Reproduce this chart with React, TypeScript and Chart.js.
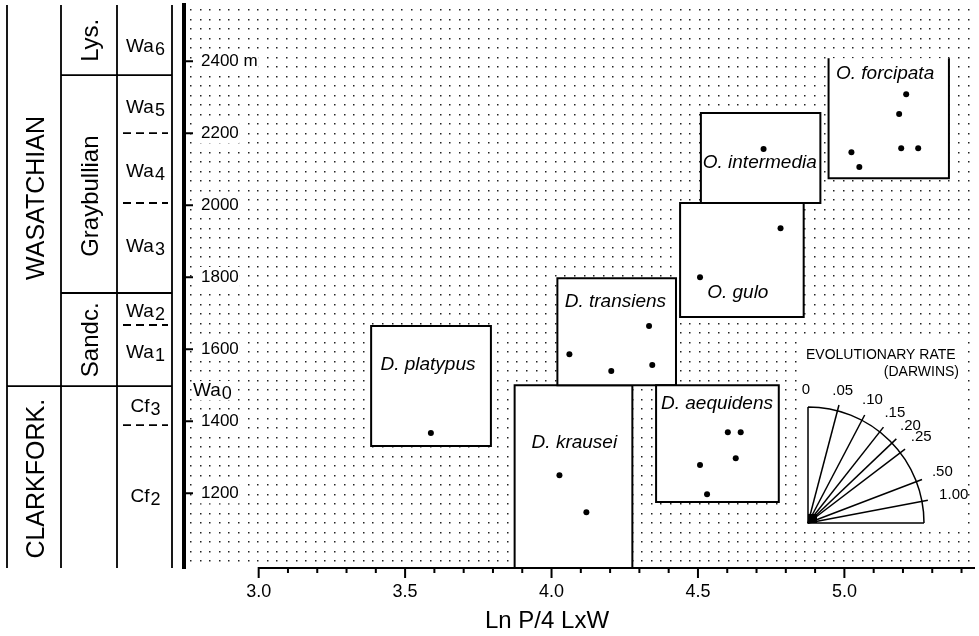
import React, { useEffect, useRef } from 'react';
import { Chart, registerables } from 'chart.js';

Chart.register(...registerables);

// ---------- axes ----------
const X_MIN = 2.745;
const X_MAX = 5.446;
const Y_MIN = 992;
const Y_MAX = 2556;
const X_TICKS = [3.0, 3.5, 4.0, 4.5, 5.0];
const X_MINOR_FIRST = 3.0;
const X_MINOR_STEP = 0.1;
const Y_TICKS = [1200, 1400, 1600, 1800, 2000, 2200, 2400];
const X_TITLE = 'Ln P/4 LxW';

// ---------- species boxes (x = Ln P/4 LxW, y = metres) ----------
const species = ['D. platypus', 'D. krausei', 'D. transiens', 'D. aequidens', 'O. gulo', 'O. intermedia', 'O. forcipata'];
const boxLeft = [3.384, 3.874, 4.020, 4.357, 4.439, 4.510, 4.946];
const boxRight = [3.793, 4.276, 4.425, 4.776, 4.861, 4.918, 5.357];
const boxTop = [1664, 1500, 1797, 1500, 2006, 2256, 2408];
const boxBottom = [1331, Y_MIN, 1500, 1175, 1689, 2006, 2075];
const boxOpenTop = [false, false, false, false, false, false, true];
const labelX = [3.578, 4.078, 4.218, 4.565, 4.636, 4.711, 5.139];
const labelY = [1556, 1339, 1731, 1447, 1756, 2117, 2364];

// ---------- specimens ----------
const ptsPlatypus = [{ x: 3.588, y: 1367 }];
const ptsKrausei = [{ x: 4.027, y: 1250 }, { x: 4.119, y: 1147 }];
const ptsTransiens = [{ x: 4.061, y: 1586 }, { x: 4.204, y: 1539 }, { x: 4.333, y: 1664 }, { x: 4.344, y: 1556 }];
const ptsAequidens = [{ x: 4.602, y: 1369 }, { x: 4.646, y: 1369 }, { x: 4.629, y: 1297 }, { x: 4.507, y: 1278 }, { x: 4.531, y: 1197 }];
const ptsGulo = [{ x: 4.782, y: 1936 }, { x: 4.507, y: 1800 }];
const ptsIntermedia = [{ x: 4.724, y: 2156 }];
const ptsForcipata = [{ x: 5.024, y: 2147 }, { x: 5.051, y: 2106 }, { x: 5.187, y: 2253 }, { x: 5.211, y: 2308 }, { x: 5.194, y: 2158 }, { x: 5.252, y: 2158 }];
const speciesPoints = [ptsPlatypus, ptsKrausei, ptsTransiens, ptsAequidens, ptsGulo, ptsIntermedia, ptsForcipata];

// ---------- stratigraphy (metres) ----------
const stageNames = ['WASATCHIAN', 'CLARKFORK.'];
const stageBase = [1497, Y_MIN];
const stageLabelAt = [2020, 1240];
const subageNames = ['Lys.', 'Graybullian', 'Sandc.', ''];
const subageBase = [2361, 1756, 1497, Y_MIN];
const subageLabelAt = [2458, 2025, 1626, 0];
const zonePrefix = ['Wa', 'Wa', 'Wa', 'Wa', 'Wa', 'Wa', 'Cf', 'Cf'];
const zoneSub = ['6', '5', '4', '3', '2', '1', '3', '2'];
const zoneBase = [2361, 2200, 2006, 1756, 1667, 1497, 1389, Y_MIN];
const zoneLabelAt = [2440, 2272, 2095, 1886, 1706, 1592, 1440, 1192];
const wa0Prefix = 'Wa';
const wa0Sub = '0';
const wa0At = 1486;

// ---------- evolutionary-rate legend ----------
const RATES = [0.05, 0.10, 0.15, 0.20, 0.25, 0.50, 1.00];
const RATE_LABELS = ['.05', '.10', '.15', '.20', '.25', '.50', '1.00'];
const SED_RATE = 155; // metres per Myr used to turn darwins into a slope
const RATE_TITLE = 'EVOLUTIONARY RATE';
const RATE_UNIT = '(DARWINS)';

const FAM = '"Liberation Sans", Arial, Helvetica, sans-serif';

function subLabel(ctx: CanvasRenderingContext2D, pre: string, sub: string, x: number, y: number, size: number, align: 'center' | 'left') {
  ctx.save();
  ctx.textBaseline = 'alphabetic';
  ctx.textAlign = 'left';
  ctx.font = `${size}px ${FAM}`;
  const w1 = ctx.measureText(pre).width;
  ctx.font = `${size - 1}px ${FAM}`;
  const w2 = ctx.measureText(sub).width;
  const x0 = align === 'center' ? x - (w1 + w2 + 1) / 2 : x;
  const base = y + size * 0.3;
  ctx.font = `${size}px ${FAM}`;
  ctx.fillText(pre, x0, base);
  ctx.font = `${size - 1}px ${FAM}`;
  ctx.fillText(sub, x0 + w1 + 1, base + 3);
  ctx.restore();
}

const figurePlugin = {
  id: 'figure',
  beforeDraw(chart: any) {
    const ctx: CanvasRenderingContext2D = chart.ctx;
    const ca = chart.chartArea;
    const xs = chart.scales.x;
    const ys = chart.scales.y;
    const X = (v: number) => xs.getPixelForValue(v);
    const Y = (v: number) => ys.getPixelForValue(v);
    ctx.save();
    ctx.fillStyle = '#fff';
    ctx.fillRect(0, 0, chart.width, chart.height);

    // dotted background
    ctx.fillStyle = '#222';
    for (let yy = ca.top + 4; yy < ca.bottom - 5; yy += 9.5) {
      for (let xx = ca.left + 6; xx < ca.right; xx += 9.6) {
        ctx.fillRect(Math.round(xx), Math.round(yy), 1.5, 1.5);
      }
    }

    // species boxes
    ctx.strokeStyle = '#000';
    ctx.lineWidth = 2;
    species.forEach((_, i) => {
      const l = X(boxLeft[i]), r = X(boxRight[i]), t = Y(boxTop[i]), b = Y(boxBottom[i]);
      ctx.fillStyle = '#fff';
      ctx.fillRect(l, t, r - l, b - t);
      ctx.beginPath();
      if (boxOpenTop[i]) {
        ctx.moveTo(l, t); ctx.lineTo(l, b); ctx.lineTo(r, b); ctx.lineTo(r, t);
      } else {
        ctx.rect(l, t, r - l, b - t);
      }
      ctx.stroke();
    });
    ctx.fillStyle = '#000';
    ctx.font = `italic 19px ${FAM}`;
    ctx.textAlign = 'center';
    ctx.textBaseline = 'middle';
    species.forEach((s, i) => ctx.fillText(s, X(labelX[i]), Y(labelY[i])));

    // rate legend
    const ox = ca.right - 167, oy = ca.bottom - 45, R = 116;
    ctx.fillStyle = '#fff';
    ctx.fillRect(ox - 8, oy - 185, 165, 191);
    ctx.fillStyle = '#000';
    ctx.font = `14px ${FAM}`;
    ctx.textBaseline = 'middle';
    ctx.textAlign = 'left';
    ctx.fillText(RATE_TITLE, ox - 2, oy - 168);
    ctx.textAlign = 'right';
    ctx.fillText(RATE_UNIT, ox + 151, oy - 151);
    ctx.lineWidth = 1.5;
    ctx.beginPath();
    ctx.moveTo(ox, oy - R);
    ctx.lineTo(ox, oy);
    ctx.lineTo(ox + R, oy);
    ctx.moveTo(ox + R, oy);
    ctx.arc(ox, oy, R, 0, -Math.PI / 2, true);
    ctx.stroke();
    const pxPerM = Y(0) - Y(1);
    const pxPerLn = X(1) - X(0);
    ctx.font = `15px ${FAM}`;
    ctx.textAlign = 'center';
    ctx.fillText('0', ox - 2, oy - R - 17);
    RATES.forEach((r, i) => {
      const th = Math.atan2(SED_RATE * pxPerM, r * pxPerLn);
      const c = Math.cos(th), s = Math.sin(th);
      ctx.beginPath();
      ctx.moveTo(ox, oy);
      ctx.lineTo(ox + (R + 6) * c, oy - (R + 6) * s);
      ctx.stroke();
      const hw = ctx.measureText(RATE_LABELS[i]).width / 2;
      const d = R + 18 + hw * c;
      ctx.fillText(RATE_LABELS[i], ox + d * c, oy - d * s);
    });
    ctx.fillRect(ox, oy - 9, 9, 9);

    // stratigraphic column
    const COL = [7, 61, 117, 172];
    ctx.strokeStyle = '#000';
    ctx.lineWidth = 1.8;
    ctx.beginPath();
    COL.forEach((cx) => { ctx.moveTo(cx, ca.top); ctx.lineTo(cx, ca.bottom); });
    stageBase.forEach((v) => { if (v > Y_MIN) { ctx.moveTo(COL[0], Y(v)); ctx.lineTo(COL[3], Y(v)); } });
    subageBase.forEach((v) => { if (v > Y_MIN) { ctx.moveTo(COL[1], Y(v)); ctx.lineTo(COL[3], Y(v)); } });
    ctx.stroke();
    ctx.setLineDash([8, 5]);
    ctx.beginPath();
    zoneBase.forEach((v) => {
      if (v > Y_MIN && !subageBase.includes(v) && !stageBase.includes(v)) {
        ctx.moveTo(COL[2] + 6, Y(v)); ctx.lineTo(COL[3] - 4, Y(v));
      }
    });
    ctx.stroke();
    ctx.setLineDash([]);
    ctx.fillStyle = '#000';
    ctx.textAlign = 'center';
    ctx.textBaseline = 'middle';
    const rot = (t: string, x: number, y: number, size: number) => {
      ctx.save();
      ctx.translate(x, y);
      ctx.rotate(-Math.PI / 2);
      ctx.font = `${size}px ${FAM}`;
      ctx.fillText(t, 0, 0);
      ctx.restore();
    };
    stageNames.forEach((n, i) => rot(n, (COL[0] + COL[1]) / 2 + 3, Y(stageLabelAt[i]), 25));
    subageNames.forEach((n, i) => { if (n) rot(n, (COL[1] + COL[2]) / 2 + 2, Y(subageLabelAt[i]), 24); });
    zonePrefix.forEach((p, i) => subLabel(ctx, p, zoneSub[i], (COL[2] + COL[3]) / 2 + 1, Y(zoneLabelAt[i]), 19, 'center'));

    // Wa0 inside plot
    ctx.font = `19px ${FAM}`;
    const w0 = ctx.measureText(wa0Prefix + wa0Sub).width;
    ctx.fillStyle = '#fff';
    ctx.fillRect(ca.left + 8, Y(wa0At) - 9, w0 + 3, 19);
    ctx.fillStyle = '#000';
    subLabel(ctx, wa0Prefix, wa0Sub, ca.left + 9, Y(wa0At), 19, 'left');

    // y tick marks (inside)
    ctx.lineWidth = 2;
    ctx.beginPath();
    Y_TICKS.forEach((v) => { ctx.moveTo(ca.left, Y(v)); ctx.lineTo(ca.left + 9, Y(v)); });
    ctx.stroke();

    // x axis line and ticks
    const yb = ca.bottom;
    ctx.beginPath();
    ctx.moveTo(X(X_TICKS[0]) - 1, yb);
    ctx.lineTo(ca.right, yb);
    for (let i = 0; X_MINOR_FIRST + i * X_MINOR_STEP <= X_MAX; i++) {
      const v = X_MINOR_FIRST + i * X_MINOR_STEP;
      const major = X_TICKS.some((t) => Math.abs(t - v) < 1e-6);
      ctx.moveTo(X(v), yb);
      ctx.lineTo(X(v), yb + (major ? 10 : 5));
    }
    ctx.stroke();

    // x title
    ctx.fillStyle = '#000';
    ctx.font = `24px ${FAM}`;
    ctx.textAlign = 'center';
    ctx.textBaseline = 'middle';
    ctx.fillText(X_TITLE, ca.left + 363, yb + 53);
    ctx.restore();
  },
};

export default function App() {
  const ref = useRef<HTMLCanvasElement>(null);
  useEffect(() => {
    const canvas = ref.current!;
    const chart = new Chart(canvas, {
      type: 'scatter',
      data: {
        datasets: speciesPoints.map((pts, i) => ({
          label: species[i],
          data: pts,
          pointRadius: 3,
          pointBackgroundColor: '#000',
          pointBorderColor: '#000',
          pointBorderWidth: 0,
          showLine: false,
        })),
      },
      options: {
        responsive: false,
        devicePixelRatio: 1,
        animation: false,
        layout: { padding: { left: 184, top: 5, right: 0, bottom: 34 } },
        plugins: { legend: { display: false }, tooltip: { enabled: false } },
        scales: {
          x: {
            type: 'linear',
            position: 'bottom',
            min: X_MIN,
            max: X_MAX,
            border: { display: false },
            grid: { display: false, drawTicks: false },
            afterBuildTicks: (s: any) => { s.ticks = X_TICKS.map((v) => ({ value: v })); },
            afterFit: (s: any) => { s.height = 34; s.paddingLeft = 0; s.paddingRight = 0; },
            ticks: {
              autoSkip: false,
              maxRotation: 0,
              padding: 13,
              color: '#000',
              font: { family: FAM, size: 18 },
              callback: (v: any) => Number(v).toFixed(1),
            },
          },
          y: {
            type: 'linear',
            position: 'left',
            min: Y_MIN,
            max: Y_MAX,
            border: { display: true, width: 4, color: '#000' },
            grid: { display: true, drawOnChartArea: false, drawTicks: false },
            afterBuildTicks: (s: any) => { s.ticks = Y_TICKS.map((v) => ({ value: v })); },
            afterFit: (s: any) => { s.width = 0; s.paddingTop = 0; s.paddingBottom = 0; },
            ticks: {
              mirror: true,
              padding: 17,
              color: '#000',
              font: { family: FAM, size: 17 },
              showLabelBackdrop: true,
              backdropColor: '#fff',
              backdropPadding: { top: 0, bottom: 0, left: 1, right: 1 },
              callback: (v: any) => (Number(v) === 2400 ? '2400 m' : String(v)),
            },
          },
        },
      },
      plugins: [figurePlugin],
    } as any);
    return () => chart.destroy();
  }, []);
  return (
    <div style={{ position: 'fixed', left: 0, top: 0, width: 979, height: 636, background: '#fff' }}>
      <canvas ref={ref} width={979} height={636} style={{ display: 'block' }} />
    </div>
  );
}
